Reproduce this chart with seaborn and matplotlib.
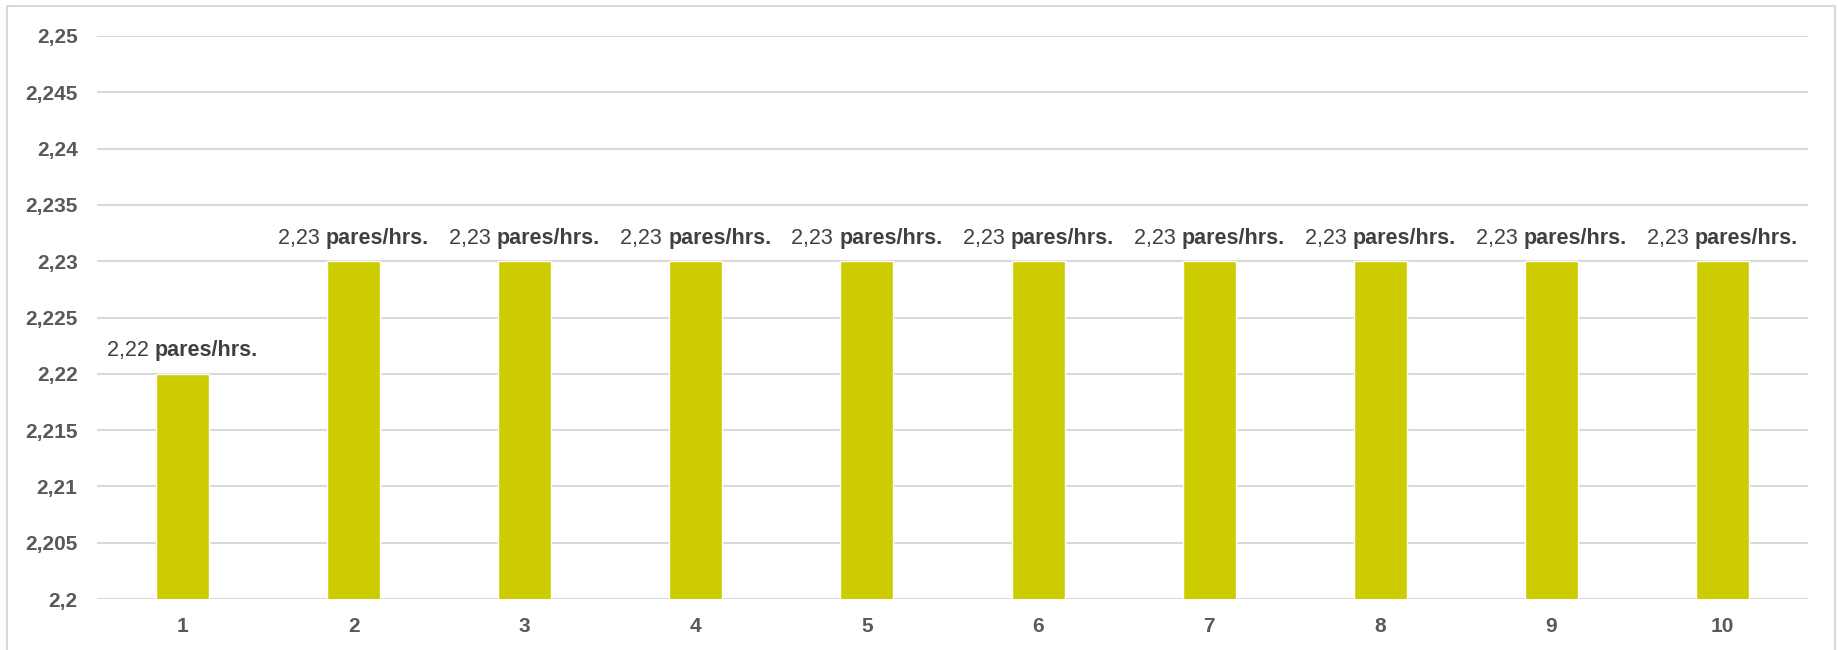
import matplotlib
matplotlib.use("Agg")
import matplotlib.pyplot as plt
import seaborn as sns
import pandas as pd
from matplotlib.patches import Rectangle

categories = ["1", "2", "3", "4", "5", "6", "7", "8", "9", "10"]
values = [2.22, 2.23, 2.23, 2.23, 2.23, 2.23, 2.23, 2.23, 2.23, 2.23]
value_labels = ["2,22", "2,23", "2,23", "2,23", "2,23", "2,23", "2,23", "2,23", "2,23", "2,23"]
unit_label = "pares/hrs."
y_ticks = [2.2, 2.205, 2.21, 2.215, 2.22, 2.225, 2.23, 2.235, 2.24, 2.245, 2.25]
y_tick_labels = ["2,2", "2,205", "2,21", "2,215", "2,22", "2,225", "2,23", "2,235", "2,24", "2,245", "2,25"]

sns.set_theme(style="white")
plt.rcParams["font.family"] = ["Liberation Sans", "DejaVu Sans"]

W, H = 1838, 650
fig = plt.figure(figsize=(W / 100, H / 100), dpi=100)
ax = fig.add_axes([97 / W, 1 - 599 / H, (1808 - 97) / W, (599 - 36) / H])

df = pd.DataFrame({"cat": categories, "val": values})
sns.barplot(data=df, x="cat", y="val", order=categories, color="#CDCC00",
            saturation=1, width=0.31, ax=ax, zorder=3)

ax.set_ylim(2.2, 2.25)
ax.set_yticks(y_ticks)
ax.set_yticklabels(y_tick_labels)
ax.set_xlabel("")
ax.set_ylabel("")
for s in ax.spines.values():
    s.set_visible(False)
ax.grid(axis="y", color="#D9D9D9", linewidth=1.5, zorder=0)
ax.set_axisbelow(True)
ax.tick_params(axis="both", length=0, labelsize=15, labelcolor="#595959")
ax.tick_params(axis="y", pad=14)
ax.tick_params(axis="x", pad=13)
for t in ax.get_xticklabels() + ax.get_yticklabels():
    t.set_fontweight("bold")

# outer border
fig.patches.append(Rectangle((7 / W, -0.01), (1835 - 7) / W, 1 - 6 / H + 0.01,
                             transform=fig.transFigure, fill=False,
                             edgecolor="#D9D9D9", linewidth=1.5))

# value labels: regular number + bold unit, centred together above each bar
OFF = 12.5
pairs = []
for i, (v, lab) in enumerate(zip(values, value_labels)):
    t1 = ax.annotate(lab + " ", xy=(i, v), xytext=(0, OFF), textcoords="offset points",
                     ha="left", va="baseline", fontsize=15.5, color="#404040")
    t2 = ax.annotate(unit_label, xy=(1, 0), xycoords=t1, ha="left", va="bottom",
                     fontsize=15.5, color="#404040", fontweight="bold")
    pairs.append((t1, t2))

fig.canvas.draw()
r = fig.canvas.get_renderer()
for t1, t2 in pairs:
    w = t1.get_window_extent(r).width + t2.get_window_extent(r).width
    t1.set_position((-w / 2 * 72 / fig.dpi, OFF))

fig.savefig("out.png", dpi=100, facecolor="white")
